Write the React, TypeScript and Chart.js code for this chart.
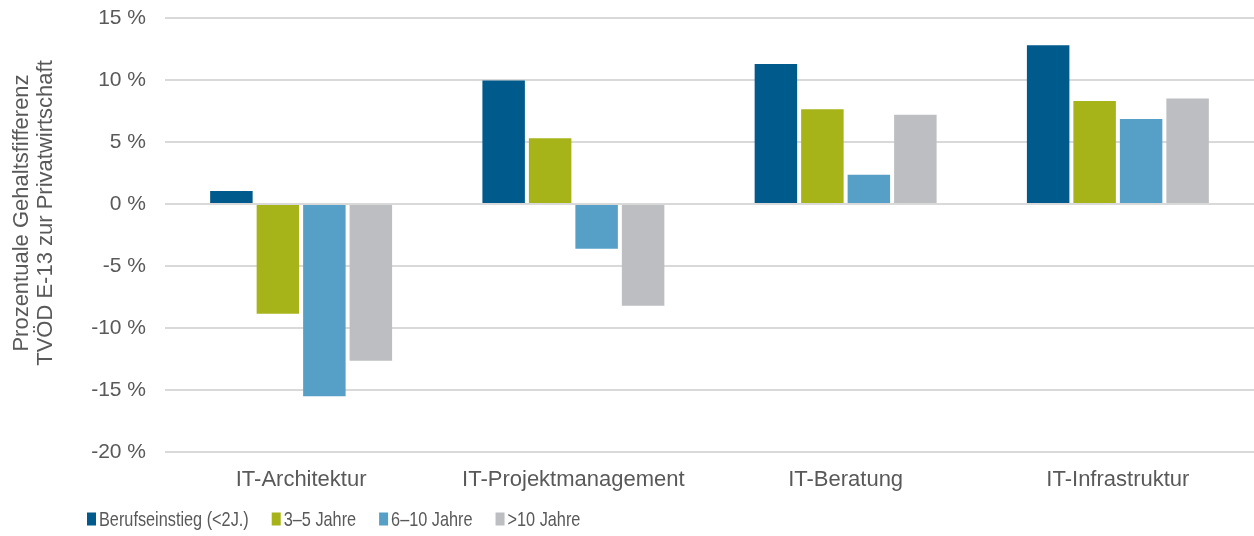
import React, { useEffect, useRef } from "react";
import { Chart, registerables } from "chart.js";

Chart.register(...registerables);

const categories = ["IT-Architektur", "IT-Projektmanagement", "IT-Beratung", "IT-Infrastruktur"];
const seriesNames = ["Berufseinstieg (<2J.)", "3–5 Jahre", "6–10 Jahre", ">10 Jahre"];
const einstieg = [1.05, 9.95, 11.3, 12.8];
const jahre3bis5 = [-8.85, 5.3, 7.65, 8.3];
const jahre6bis10 = [-15.5, -3.6, 2.35, 6.85];
const ueber10 = [-12.65, -8.2, 7.2, 8.5];
const colors = ["#005A8C", "#A6B41A", "#56A0C8", "#BCBEC1"];
const yTitle = ["Prozentuale Gehaltsfifferenz", "TVÖD E-13 zur Privatwirtschaft"];
const yMin = -20;
const yMax = 15;
const yStep = 5;

const TEXT = "#595959";

const titlePlugin = {
  id: "yTitleCustom",
  afterDraw(chart: any) {
    const ctx = chart.ctx;
    ctx.save();
    ctx.fillStyle = TEXT;
    ctx.font = '22px "Liberation Sans", Arial, sans-serif';
    ctx.textAlign = "center";
    ctx.textBaseline = "middle";
    ctx.translate(22, 213);
    ctx.rotate(-Math.PI / 2);
    yTitle.forEach((t, i) => ctx.fillText(t, 0, i * 24));
    ctx.restore();
  },
};

const legendPlugin = {
  id: "legendCustom",
  afterDraw(chart: any) {
    const ctx = chart.ctx;
    ctx.save();
    ctx.font = '21px "Liberation Sans", Arial, sans-serif';
    ctx.textBaseline = "middle";
    ctx.textAlign = "left";
    const sx = 0.775;
    let x = 87;
    const y = 519;
    chart.data.datasets.forEach((ds: any) => {
      ctx.fillStyle = ds.backgroundColor;
      ctx.fillRect(x, y - 6.5, 9, 13);
      x += 12;
      ctx.fillStyle = TEXT;
      ctx.save();
      ctx.translate(x, y + 1);
      ctx.scale(sx, 1);
      ctx.fillText(ds.label, 0, 0);
      ctx.restore();
      x += ctx.measureText(ds.label).width * sx + 23;
    });
    ctx.restore();
  },
};

export default function App() {
  const ref = useRef<HTMLCanvasElement | null>(null);
  useEffect(() => {
    document.body.style.margin = "0";
    if (!ref.current) return;
    const series = [einstieg, jahre3bis5, jahre6bis10, ueber10];
    const chart = new Chart(ref.current, {
      type: "bar",
      data: {
        labels: categories,
        datasets: series.map((d, i) => ({
          label: seriesNames[i],
          data: d,
          backgroundColor: colors[i],
          borderWidth: 0,
          categoryPercentage: 0.683,
          barPercentage: 0.914,
        })),
      },
      options: {
        animation: false,
        responsive: false,
        devicePixelRatio: 1,
        layout: { padding: 0 },
        plugins: {
          legend: { display: false },
          tooltip: { enabled: false },
          title: { display: false },
        },
        scales: {
          x: {
            grid: { display: false, drawTicks: false },
            border: { display: false },
            ticks: {
              color: TEXT,
              font: { family: '"Liberation Sans", Arial, sans-serif', size: 22 },
              padding: 15,
              maxRotation: 0,
            },
            afterFit(scale: any) {
              scale.height = 84;
              scale.paddingLeft = 0;
              scale.paddingRight = 0;
            },
          },
          y: {
            min: yMin,
            max: yMax,
            grid: { color: "#D9D9D9", lineWidth: 2, drawTicks: false },
            border: { display: false },
            ticks: {
              stepSize: yStep,
              color: TEXT,
              font: { family: '"Liberation Sans", Arial, sans-serif', size: 21 },
              padding: 19,
              callback: (v: any) => `${v} %`,
            },
            afterFit(scale: any) {
              scale.width = 165;
              scale.paddingTop = 18;
              scale.paddingBottom = 0;
            },
          },
        },
      },
      plugins: [titlePlugin, legendPlugin],
    });
    return () => chart.destroy();
  }, []);
  return (
    <div style={{ width: 1254, height: 536 }}>
      <canvas ref={ref} width={1254} height={536} style={{ display: "block" }} />
    </div>
  );
}
